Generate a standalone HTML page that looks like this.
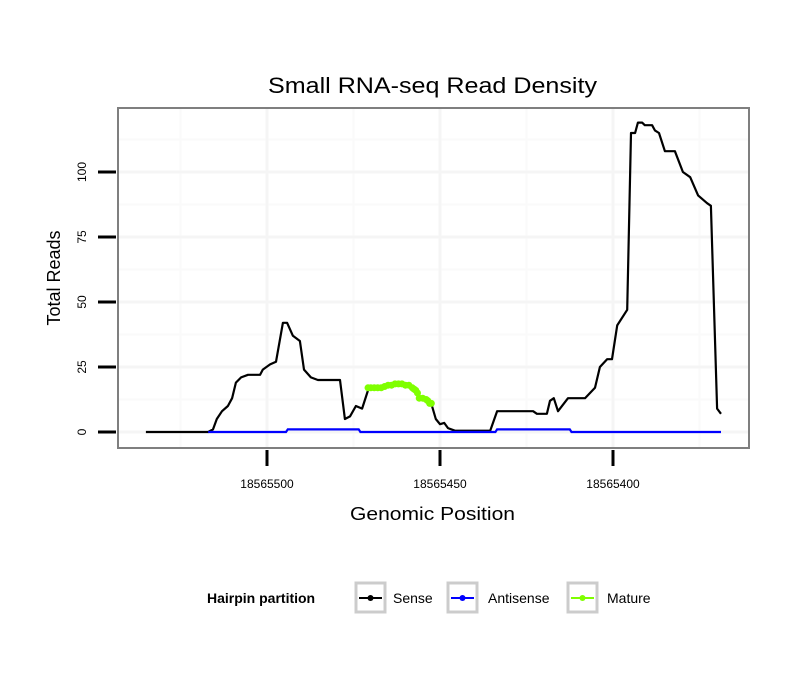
<!DOCTYPE html>
<html><head><meta charset="utf-8"><style>
body{margin:0;background:#fff;font-family:"Liberation Sans",sans-serif}
</style></head><body>
<svg id="chart" width="810" height="690" xmlns="http://www.w3.org/2000/svg" font-family="Liberation Sans, sans-serif">
<rect width="810" height="690" fill="#fff"/>
<text x="268" y="93" font-size="22" textLength="329" lengthAdjust="spacingAndGlyphs">Small RNA-seq Read Density</text>
<g id="grid"></g>
<g id="marks"></g>
<rect x="118" y="108" width="631" height="340" fill="none" stroke="#7f7f7f" stroke-width="2"/>
<g id="axes"></g>
<text x="350" y="520" font-size="18" textLength="165" lengthAdjust="spacingAndGlyphs">Genomic Position</text>
<text transform="translate(60,278) rotate(-90)" font-size="18" text-anchor="middle">Total Reads</text>
<g>
<text x="207" y="603" font-size="14" font-weight="bold">Hairpin partition</text>
<g><rect x="356" y="583" width="29" height="29" fill="#fff" stroke="#ccc" stroke-width="3"/><line x1="359" y1="598" x2="382" y2="598" stroke="#000" stroke-width="2"/><circle cx="370.5" cy="598" r="3" fill="#000"/><text x="393" y="603" font-size="14">Sense</text></g>
<g><rect x="448" y="583" width="29" height="29" fill="#fff" stroke="#ccc" stroke-width="3"/><line x1="451" y1="598" x2="474" y2="598" stroke="#00f" stroke-width="2"/><circle cx="462.5" cy="598" r="3" fill="#00f"/><text x="488" y="603" font-size="14">Antisense</text></g>
<g><rect x="568" y="583" width="29" height="29" fill="#fff" stroke="#ccc" stroke-width="3"/><line x1="571" y1="598" x2="594" y2="598" stroke="#7fff00" stroke-width="2"/><circle cx="582.5" cy="598" r="3" fill="#7fff00"/><text x="607" y="603" font-size="14">Mature</text></g>
</g>
</svg>
<script>
const sensePos=[18565535,18565517,18565515.6,18565514.5,18565513,18565511.3,18565510.1,18565509,18565507.5,18565505.5,18565502,18565501.2,18565499.1,18565497.4,18565495.4,18565494.2,18565492.5,18565490.5,18565489.3,18565487.3,18565485.3,18565478.9,18565477.5,18565476,18565474.3,18565472.5,18565470.8,18565469.7,18565465.9,18565461.6,18565458.7,18565457.2,18565455.8,18565452.9,18565452.3,18565451.2,18565450,18565448.8,18565447.7,18565445.7,18565435.5,18565433.5,18565423.1,18565422,18565419.1,18565418.2,18565417.1,18565415.9,18565413,18565408.1,18565405.2,18565403.8,18565401.7,18565400.3,18565398.8,18565395.9,18565394.8,18565393.6,18565392.8,18565391.6,18565390.8,18565388.7,18565387.9,18565386.7,18565385,18565382.1,18565379.8,18565377.7,18565375.4,18565372.8,18565371.7,18565369.9,18565368.8];
const senseVals=[0,0,1,5,8,10,13,19,21,22,22,24,26,27,42,42,37,35,24,21,20,20,5,6,10,9,16,17,18,19,18,16,13,11,10,5,3,3.5,1.5,0.5,0.5,8,8,7,7,12,13,8,13,13,17,25,28,28,41,47,115,115,119,119,118,118,116,115,108,108,100,98,91,88,87,9,7];
const antiPos=[18565517,18565494.5,18565494,18565473.5,18565473,18565434,18565433.5,18565412.5,18565412,18565368.8];
const antiVals=[0,0,1,1,0,0,1,1,0,0];
const maturePos=[18565470.8,18565470,18565469,18565468,18565467,18565466,18565465,18565464,18565463,18565462,18565461,18565460,18565459,18565458,18565457.5,18565457,18565456.5,18565456,18565455,18565454,18565453.5,18565453,18565452.5];
const matureVals=[17,17,17,17,17,17.5,18,18,18.5,18.5,18.5,18,18,17,16.5,16,15,13,13,12.5,12,11,11];
const xTicks=[18565500,18565450,18565400];
const xMinor=[18565525,18565475,18565425,18565375];
const yTicks=[0,25,50,75,100];
const yMinor=[12.5,37.5,62.5,87.5,112.5];
const X=p=>267+(18565500-p)*3.46;
const Y=v=>432-v*2.6;
const NS="http://www.w3.org/2000/svg";
function mk(tag,attrs,parent){const e=document.createElementNS(NS,tag);for(const k in attrs)e.setAttribute(k,attrs[k]);document.getElementById(parent).appendChild(e);return e;}
yMinor.forEach(v=>{const l=mk('line',{x1:119,x2:748,y1:Y(v),y2:Y(v),stroke:'#fafafa','stroke-width':2},'grid');

});
xMinor.forEach(v=>{const l=mk('line',{x1:X(v),x2:X(v),y1:109,y2:447,stroke:'#fafafa','stroke-width':2},'grid');

});
yTicks.forEach(v=>{const l=mk('line',{x1:119,x2:748,y1:Y(v),y2:Y(v),stroke:'#f5f5f5','stroke-width':3},'grid');


const t=mk('line',{x1:98,x2:116,y1:Y(v),y2:Y(v),stroke:'#000','stroke-width':3},'axes');


const tx=mk('text',{transform:`translate(86,${Y(v)}) rotate(-90)`,'font-size':12,'text-anchor':'middle'},'axes');tx.textContent=v;

});
xTicks.forEach(v=>{const l=mk('line',{x1:X(v),x2:X(v),y1:109,y2:447,stroke:'#f5f5f5','stroke-width':3},'grid');


const t=mk('line',{x1:X(v),x2:X(v),y1:450,y2:466,stroke:'#000','stroke-width':3},'axes');


const tx=mk('text',{x:X(v),y:488,'font-size':12,'text-anchor':'middle'},'axes');tx.textContent=v;

});
function pts(P,V){return P.map((p,i)=>X(p).toFixed(1)+','+Y(V[i]).toFixed(1)).join(' ');}
const s=mk('polyline',{points:pts(sensePos,senseVals),fill:'none',stroke:'#000','stroke-width':2.2,'stroke-linejoin':'round'},'marks');


const a=mk('polyline',{points:pts(antiPos,antiVals),fill:'none',stroke:'#00f','stroke-width':2.2},'marks');


const m=mk('polyline',{points:pts(maturePos,matureVals),fill:'none',stroke:'#7fff00','stroke-width':4,'stroke-linejoin':'round'},'marks');


maturePos.forEach((p,i)=>{const c=mk('circle',{cx:X(p),cy:Y(matureVals[i]),r:3.5,fill:'#7fff00'},'marks');

});
</script>
</body></html>
